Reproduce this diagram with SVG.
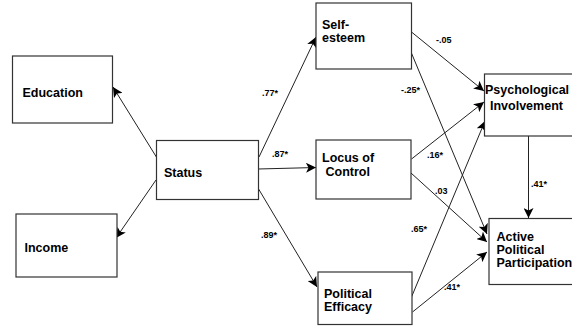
<svg xmlns="http://www.w3.org/2000/svg" width="572" height="326" viewBox="0 0 572 326">
<defs>
<marker id="ah" viewBox="0 0 10 10" refX="10" refY="5" markerWidth="10" markerHeight="10" markerUnits="userSpaceOnUse" orient="auto">
<path d="M0,0 L10,5 L0,10 L2.5,5 z" fill="#000"/>
</marker>
</defs>
<style>
rect{fill:#fff;stroke:#333;stroke-width:1.2}
.t{font-family:"Liberation Sans",Arial,sans-serif;font-weight:bold;font-size:12.5px;fill:#000}
.l{font-family:"Liberation Sans",Arial,sans-serif;font-weight:bold;font-size:9px;fill:#000}
#connectors line{stroke:#222;stroke-width:1;marker-end:url(#ah)}
</style>
<rect x="0" y="0" width="572" height="326" style="fill:#fff;stroke:none"/>
<g id="connectors">
<line x1="157" y1="158" x2="113" y2="87"/>
<line x1="156" y1="180" x2="116" y2="238"/>
<line x1="259" y1="157" x2="316" y2="37"/>
<line x1="258" y1="169" x2="316" y2="167.5"/>
<line x1="258" y1="188" x2="317" y2="287"/>
<line x1="411.5" y1="32" x2="484" y2="91"/>
<line x1="411" y1="52" x2="487" y2="234"/>
<line x1="411.5" y1="159" x2="484" y2="102"/>
<line x1="411" y1="173" x2="487" y2="242"/>
<line x1="411.5" y1="297" x2="485" y2="121"/>
<line x1="412.5" y1="312" x2="487" y2="252"/>
<line x1="528.5" y1="136" x2="528.5" y2="218"/>
</g>
<g id="labels">
<text class="l" x="262" y="96">.77*</text>
<text class="l" x="272" y="157">.87*</text>
<text class="l" x="261" y="238">.89*</text>
<text class="l" x="436" y="43">-.05</text>
<text class="l" x="401" y="93">-.25*</text>
<text class="l" x="427" y="158">.16*</text>
<text class="l" x="435" y="194">.03</text>
<text class="l" x="411" y="232">.65*</text>
<text class="l" x="444" y="290">.41*</text>
<text class="l" x="531" y="187">.41*</text>
</g>
<g id="education"><rect x="12.5" y="56" width="100" height="67"/><text class="t" x="22.5" y="97">Education</text></g>
<g id="income"><rect x="16" y="214" width="101" height="63"/><text class="t" x="24.5" y="252">Income</text></g>
<g id="status"><rect x="156.5" y="140.5" width="102" height="59"/><text class="t" x="164" y="177">Status</text></g>
<g id="self-esteem"><rect x="316" y="3" width="95.5" height="66"/><text class="t" x="322" y="29">Self-</text><text class="t" x="322" y="42">esteem</text></g>
<g id="locus"><rect x="316" y="140" width="95" height="59"/><text class="t" x="322" y="162">Locus of</text><text class="t" x="325.5" y="175.5">Control</text></g>
<g id="efficacy"><rect x="318" y="272" width="94" height="52.5"/><text class="t" x="324" y="298">Political</text><text class="t" x="324" y="310.5">Efficacy</text></g>
<g id="psych"><rect x="484.5" y="74" width="90" height="62"/><text class="t" x="485" y="93.5">Psychological</text><text class="t" x="490" y="110">Involvement</text></g>
<g id="active"><rect x="489" y="218.5" width="86" height="66"/><text class="t" x="496.5" y="241">Active</text><text class="t" x="496.5" y="254">Political</text><text class="t" x="496.5" y="267">Participation</text></g>
</svg>
